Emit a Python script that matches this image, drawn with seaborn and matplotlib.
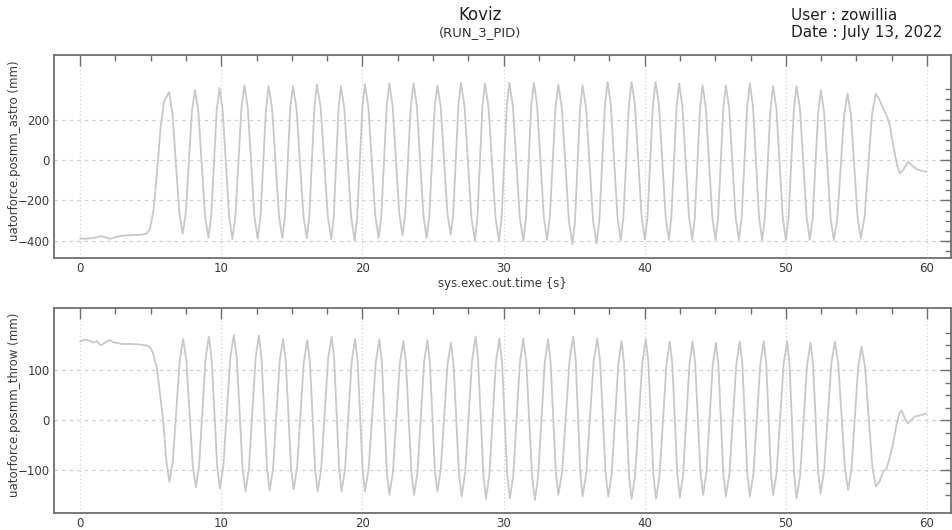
import matplotlib
matplotlib.use("Agg")
import matplotlib.pyplot as plt
import seaborn as sns
from matplotlib.ticker import FixedLocator

# ---------------- data ----------------
title = "Koviz"
subtitle = "(RUN_3_PID)"
user_text = "User : zowillia"
date_text = "Date : July 13, 2022"
x_label = "sys.exec.out.time {s}"
astro_label = "uatorforce.posmm_astro (mm)"
throw_label = "uatorforce.posmm_throw (mm)"

x_major = [0, 10, 20, 30, 40, 50, 60]
astro_major = [-400, -200, 0, 200]
throw_major = [-100, 0, 100]

astro_time = [
    0.00, 0.35, 0.82, 1.18, 1.53, 1.80, 2.12, 2.48, 2.95, 3.54, 4.25, 4.70,
    4.95, 5.20, 5.45, 5.70, 5.95, 6.30,
    6.54, 7.03, 7.27, 7.49, 7.92, 8.14, 8.38, 8.85, 9.09, 9.29, 9.68, 9.87,
    10.10, 10.56, 10.79, 11.00, 11.43, 11.64, 11.88, 12.35, 12.58, 12.78, 13.17, 13.36,
    13.60, 14.09, 14.33, 14.52, 14.89, 15.08, 15.33, 15.82, 16.06, 16.24, 16.60, 16.78,
    17.04, 17.55, 17.80, 17.97, 18.31, 18.48, 18.72, 19.21, 19.45, 19.63, 20.00, 20.18,
    20.42, 20.91, 21.15, 21.34, 21.72, 21.91, 22.14, 22.61, 22.84, 23.04, 23.43, 23.63,
    23.86, 24.32, 24.55, 24.74, 25.12, 25.31, 25.55, 26.02, 26.26, 26.44, 26.80, 26.98,
    27.23, 27.72, 27.97, 28.15, 28.50, 28.68, 28.93, 29.43, 29.68, 29.86, 30.23, 30.41,
    30.66, 31.15, 31.40, 31.59, 31.96, 32.15, 32.38, 32.85, 33.08, 33.28, 33.68, 33.88,
    34.13, 34.63, 34.88, 35.06, 35.42, 35.60, 35.85, 36.34, 36.59, 36.79, 37.18, 37.37,
    37.60, 38.07, 38.30, 38.49, 38.88, 39.07, 39.31, 39.78, 40.01, 40.20, 40.58, 40.77,
    41.01, 41.48, 41.71, 41.89, 42.26, 42.44, 42.67, 43.14, 43.37, 43.55, 43.92, 44.10,
    44.33, 44.79, 45.02, 45.20, 45.57, 45.75, 45.98, 46.44, 46.67, 46.87, 47.26, 47.45,
    47.67, 48.10, 48.32, 48.52, 48.91, 49.10, 49.33, 49.78, 50.00, 50.19, 50.57, 50.76,
    51.00, 51.47, 51.70, 51.90, 52.29, 52.48, 52.71, 53.17, 53.40, 53.64, 54.13, 54.37,
    54.61, 55.08, 55.31, 55.58, 56.10, 56.37,
    56.65, 56.90, 57.13, 57.36, 57.60, 57.88, 58.07, 58.31, 58.66, 58.90, 59.25, 59.61, 59.96,
]
astro_mm = [
    -387, -390, -387, -382, -377, -383, -390, -382, -375, -372, -370, -366,
    -340, -250, -60, 160, 290, 337,
    234, -262, -365, -261, 242, 346, 239, -277, -384, -275, 248, 357,
    247, -282, -392, -280, 258, 370, 259, -279, -390, -279, 254, 365,
    255, -277, -387, -277, 256, 366, 256, -277, -387, -276, 262, 374,
    262, -280, -392, -281, 255, 366, 254, -286, -398, -285, 263, 376,
    264, -275, -387, -275, 267, 379, 269, -263, -373, -263, 269, 379,
    267, -275, -387, -276, 259, 370, 262, -262, -370, -260, 273, 383,
    269, -284, -398, -284, 265, 379, 265, -286, -400, -285, 268, 383,
    268, -285, -400, -285, 268, 383, 269, -281, -395, -282, 261, 374,
    258, -302, -418, -303, 255, 370, 255, -299, -414, -297, 270, 387,
    272, -282, -397, -282, 272, 387, 272, -280, -395, -280, 272, 387,
    272, -280, -395, -282, 266, 379, 266, -282, -395, -283, 258, 370,
    258, -283, -395, -283, 258, 370, 258, -283, -395, -282, 266, 379,
    265, -283, -397, -285, 254, 366, 254, -285, -397, -285, 254, 366,
    255, -284, -395, -286, 237, 346, 237, -288, -397, -291, 223, 329,
    224, -282, -387, -282, 224, 329,
    296, 255, 222, 173, 74, -25, -66, -49, -8, -25, -44, -53, -58,
]

throw_time = [
    0.00, 0.25, 0.47, 0.80, 1.00, 1.18, 1.35, 1.53, 1.80, 2.12, 2.30, 2.48,
    3.00, 3.60, 4.20, 4.72, 4.96, 5.15, 5.43, 5.65, 5.90, 6.10, 6.33,
    6.57, 7.06, 7.30, 7.53, 7.98, 8.20, 8.43, 8.89, 9.12, 9.32, 9.71, 9.90,
    10.15, 10.64, 10.89, 11.10, 11.51, 11.72, 11.96, 12.43, 12.66, 12.85, 13.24, 13.43,
    13.67, 14.14, 14.38, 14.57, 14.94, 15.13, 15.37, 15.85, 16.09, 16.28, 16.65, 16.83,
    17.08, 17.57, 17.82, 18.00, 18.35, 18.53, 18.77, 19.24, 19.48, 19.66, 20.01, 20.18,
    20.44, 20.95, 21.20, 21.38, 21.73, 21.91, 22.16, 22.65, 22.90, 23.09, 23.47, 23.66,
    23.90, 24.37, 24.60, 24.78, 25.13, 25.31, 25.55, 26.03, 26.27, 26.46, 26.84, 27.03,
    27.28, 27.77, 28.02, 28.20, 28.57, 28.75, 28.99, 29.46, 29.70, 29.89, 30.26, 30.45,
    30.69, 31.16, 31.40, 31.61, 32.02, 32.22, 32.45, 32.92, 33.15, 33.33, 33.70, 33.88,
    34.15, 34.68, 34.94, 35.11, 35.44, 35.60, 35.86, 36.38, 36.64, 36.84, 37.23, 37.42,
    37.66, 38.13, 38.36, 38.54, 38.89, 39.07, 39.32, 39.83, 40.08, 40.26, 40.62, 40.80,
    41.05, 41.54, 41.78, 41.96, 42.31, 42.49, 42.72, 43.17, 43.39, 43.58, 43.95, 44.14,
    44.37, 44.82, 45.04, 45.22, 45.57, 45.75, 46.00, 46.49, 46.74, 46.92, 47.27, 47.45,
    47.70, 48.19, 48.44, 48.61, 48.94, 49.10, 49.35, 49.84, 50.09, 50.26, 50.59, 50.76,
    51.01, 51.50, 51.75, 51.93, 52.28, 52.46, 52.71, 53.22, 53.47, 53.71, 54.18, 54.41,
    54.65, 55.12, 55.36, 55.61, 56.12, 56.37,
    56.65, 56.90, 57.14, 57.36, 57.60, 57.80, 58.03, 58.20, 58.40, 58.66, 58.90, 59.13, 59.50, 59.96,
]
throw_mm = [
    157, 160, 160, 157, 155, 158, 152, 150, 156, 160, 156, 155,
    152, 152, 151, 149, 145, 135, 105, 55, -5, -80, -124,
    -82, 120, 162, 118, -91, -135, -91, 123, 167, 122, -92, -137,
    -92, 125, 170, 124, -97, -143, -97, 123, 169, 124, -96, -141,
    -97, 118, 162, 118, -95, -139, -95, 116, 160, 116, -99, -143,
    -98, 122, 167, 122, -98, -143, -98, 117, 162, 117, -98, -143,
    -98, 117, 162, 116, -104, -150, -105, 113, 158, 113, -105, -150,
    -105, 115, 160, 116, -99, -143, -99, 111, 155, 110, -108, -153,
    -106, 120, 167, 119, -110, -158, -111, 116, 163, 116, -110, -157,
    -110, 116, 163, 116, -113, -160, -113, 115, 162, 116, -104, -150,
    -104, 121, 167, 120, -106, -153, -107, 117, 163, 117, -107, -153,
    -108, 112, 158, 112, -112, -158, -111, 115, 162, 115, -111, -158,
    -112, 111, 157, 111, -109, -155, -109, 111, 157, 112, -105, -150,
    -105, 110, 155, 110, -108, -153, -108, 112, 157, 112, -108, -153,
    -108, 112, 158, 113, -105, -150, -105, 112, 157, 111, -111, -157,
    -111, 109, 155, 111, -103, -147, -102, 112, 157, 114, -96, -140,
    -98, 105, 147, 106, -92, -133,
    -122, -103, -97, -75, -47, -15, 13, 19, 5, -7, 0, 7, 9, 13,
]

# ---------------- styling ----------------
sns.set_theme(style="white")
plt.rcParams["font.family"] = ["DejaVu Sans"]

LINE = "#c8c8c8"
SPINE = "#6e6e6e"
TEXT = "#3a3a3a"
GRID = "#d2d2d2"

fig = plt.figure(figsize=(9.52, 5.30), dpi=100)
fig.patch.set_facecolor("white")
W, H = 952.0, 530.0
ax1 = fig.add_axes([54 / W, 1 - 258 / H, 897 / W, 203 / H])
ax2 = fig.add_axes([54 / W, 1 - 513 / H, 897 / W, 205 / H])

sns.lineplot(x=astro_time, y=astro_mm, ax=ax1, color=LINE, linewidth=1.3,
             estimator=None, sort=False)
sns.lineplot(x=throw_time, y=throw_mm, ax=ax2, color=LINE, linewidth=1.3,
             estimator=None, sort=False)


def style(ax, ymajor, yminor, ylim, ylabel):
    ax.set_facecolor("white")
    ax.set_xlim(-1.85, 61.7)
    ax.set_ylim(*ylim)
    ax.xaxis.set_major_locator(FixedLocator(x_major))
    ax.xaxis.set_minor_locator(FixedLocator([v * 2.5 for v in range(0, 25)]))
    ax.yaxis.set_major_locator(FixedLocator(ymajor))
    ax.yaxis.set_minor_locator(FixedLocator(yminor))
    ax.tick_params(which="both", direction="in", top=True, right=True,
                   color=SPINE, labelcolor=TEXT, labelsize=8.5, pad=3)
    ax.tick_params(which="major", length=8, width=1.0)
    ax.tick_params(which="minor", length=4, width=1.0)
    for s in ax.spines.values():
        s.set_visible(True)
        s.set_color(SPINE)
        s.set_linewidth(1.3)
    ax.grid(False)
    for y in ymajor:
        ax.axhline(y, color=GRID, linewidth=0.9, linestyle=(0, (3, 3)), zorder=0)
    for x in x_major:
        ax.axvline(x, color=GRID, linewidth=0.9, linestyle=(0, (1, 2)), zorder=0)
    ax.set_ylabel(ylabel, fontsize=8.5, color=TEXT)
    ax.yaxis.set_label_coords(-0.037, 0.53)


style(ax1, astro_major, list(range(-450, 351, 50)), (-485, 520), astro_label)
style(ax2, throw_major, list(range(-150, 176, 25)), (-186, 224), throw_label)
ax1.set_xlabel(x_label, fontsize=8.5, color=TEXT, labelpad=1)
ax2.set_xlabel("")

fig.text(480 / W, 1 - 15 / H, title, ha="center", va="center", fontsize=12, color="#222222")
fig.text(480 / W, 1 - 33 / H, subtitle, ha="center", va="center", fontsize=9.5, color="#333333")
fig.text(791 / W, 1 - 15 / H, user_text, ha="left", va="center", fontsize=11, color="#222222")
fig.text(791 / W, 1 - 33 / H, date_text, ha="left", va="center", fontsize=11, color="#222222")

fig.savefig("out.png", dpi=100, facecolor="white")
